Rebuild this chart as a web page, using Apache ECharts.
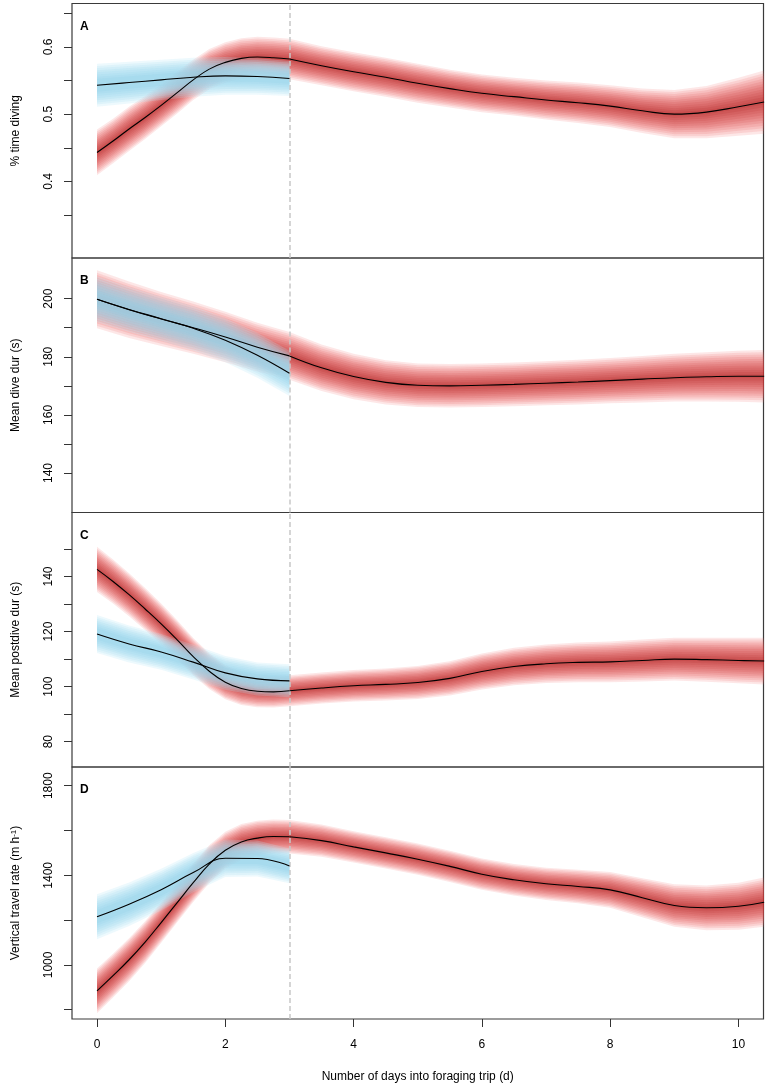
<!DOCTYPE html>
<html><head><meta charset="utf-8">
<script src="https://cdn.jsdelivr.net/npm/echarts@6/dist/echarts.min.js"></script>
<style>html,body{margin:0;padding:0;background:#fff}#c{width:768px;height:1086px}</style>
</head><body><div id="c"></div>
<script>
// ---------- data ----------
const X_PRE_Q = [0,0.25,0.5,0.75,1,1.25,1.5,1.75,2,2.25,2.5,2.75,3];
const X_PRE_H = [0,0.5,1,1.5,2,2.5,3];
const X_POST = [3,3.5,4,4.5,5,5.5,6,6.5,7,7.5,8,8.5,9,9.5,10,10.4];
const X_TICKS = [0,2,4,6,8,10];

// Panel A: % time diving
const A_RED_PRE = [0.443,0.460,0.478,0.495,0.513,0.532,0.551,0.567,0.577,0.583,0.585,0.584,0.582];
const A_RED_PRE_CI = [0.034,0.033,0.033,0.032,0.031,0.031,0.030,0.030,0.030,0.030,0.030,0.030,0.030];
const A_BLUE = [0.543,0.547,0.551,0.555,0.557,0.556,0.553];
const A_BLUE_CI = [0.032,0.031,0.030,0.029,0.028,0.027,0.026];
const A_RED_POST = [0.582,0.572,0.563,0.555,0.546,0.538,0.531,0.526,0.521,0.517,0.512,0.505,0.500,0.503,0.511,0.518];
const A_RED_POST_CI = [0.030,0.029,0.029,0.029,0.029,0.028,0.028,0.028,0.029,0.030,0.031,0.033,0.036,0.039,0.043,0.047];
const A_TICKS = [0.35,0.4,0.45,0.5,0.55,0.6,0.65];
const A_LABELS = [0.4,0.5,0.6];

// Panel B: mean dive duration
const B_RED_PRE = [199.8,196.2,193.0,190.0,186.8,183.3,180.3];
const B_RED_PRE_CI = [10,9.7,9.3,9,8.7,8.4,8.2];
const B_BLUE = [199.8,196.3,193.1,189.8,185.7,180.5,174.3];
const B_BLUE_CI = [7.8,7.7,7.6,7.6,7.6,7.7,7.8];
const B_RED_POST = [180.3,176.2,173.2,171.2,170.2,170.0,170.2,170.5,170.9,171.3,171.8,172.3,172.8,173.1,173.3,173.3];
const B_RED_POST_CI = [8.2,8.0,7.8,7.6,7.5,7.5,7.5,7.5,7.6,7.7,7.8,8.0,8.2,8.5,8.8,9.0];
const B_TICKS = [140,150,160,170,180,190,200];
const B_LABELS = [140,160,180,200];

// Panel C: mean postdive duration
const C_RED_PRE = [142.6,138.2,133.4,128.2,122.8,117.0,110.9,105.6,101.6,99.3,98.3,98.1,98.5];
const C_RED_PRE_CI = [8.2,8.0,7.8,7.6,7.4,7.1,6.8,6.5,6.2,6.0,5.8,5.7,5.6];
const C_BLUE = [119.1,115.5,112.6,108.9,105.0,102.8,102.1];
const C_BLUE_CI = [6.9,6.7,6.5,6.3,6.1,6.0,6.0];
const C_RED_POST = [98.5,99.5,100.3,100.8,101.5,103.0,105.5,107.3,108.3,108.8,109.0,109.5,110.0,109.8,109.5,109.3];
const C_RED_POST_CI = [5.6,5.6,5.7,5.8,6.0,6.2,6.5,6.8,7.0,7.2,7.4,7.6,7.8,8.0,8.3,8.5];
const C_TICKS = [80,90,100,110,120,130,140,150];
const C_LABELS = [80,100,120,140];

// Panel D: vertical travel rate
const D_RED_PRE = [884,952,1023,1102,1189,1278,1367,1450,1512,1549,1566,1573,1572];
const D_RED_PRE_CI = [100,98,96,93,90,88,86,84,82,80,78,76,75];
const D_BLUE = [1215,1271,1336,1412,1476,1475,1442];
const D_BLUE_CI = [100,97,93,88,84,80,78];
const D_RED_POST = [1572,1555,1527,1500,1472,1440,1405,1380,1362,1350,1335,1300,1265,1255,1262,1280];
const D_RED_POST_CI = [75,72,70,70,70,70,70,70,72,75,80,87,95,100,105,110];
const D_TICKS = [800,1000,1200,1400,1600,1800];
const D_LABELS = [1000,1400,1800];

const PANEL_LETTERS = ['A','B','C','D'];
const Y_TITLES = ['% time diving','Mean dive dur (s)','Mean postdive dur (s)','Vertical travel rate (m h{sup|-1})'];
const X_TITLE = 'Number of days into foraging trip (d)';
const SPLIT_DAY = 3;

// ---------- layout / style ----------
const FONT = 'Liberation Sans, Arial, Helvetica, sans-serif';
const GRID_TOPS = [3.5, 258, 512.5, 767];
const GRID_HEIGHTS = [254.5, 254.5, 254.5, 252];
const Y_RANGES = [[0.286,0.6646],[126.4,214.0],[70.8,163.26],[758.5,1883.5]];
const X_RANGE = [-0.39, 10.39];

const panels = [
  {redPre:[X_PRE_Q,A_RED_PRE,A_RED_PRE_CI], blue:[X_PRE_H,A_BLUE,A_BLUE_CI], redPost:[X_POST,A_RED_POST,A_RED_POST_CI], ticks:A_TICKS, labels:A_LABELS},
  {redPre:[X_PRE_H,B_RED_PRE,B_RED_PRE_CI], blue:[X_PRE_H,B_BLUE,B_BLUE_CI], redPost:[X_POST,B_RED_POST,B_RED_POST_CI], ticks:B_TICKS, labels:B_LABELS},
  {redPre:[X_PRE_Q,C_RED_PRE,C_RED_PRE_CI], blue:[X_PRE_H,C_BLUE,C_BLUE_CI], redPost:[X_POST,C_RED_POST,C_RED_POST_CI], ticks:C_TICKS, labels:C_LABELS},
  {redPre:[X_PRE_Q,D_RED_PRE,D_RED_PRE_CI], blue:[X_PRE_H,D_BLUE,D_BLUE_CI], redPost:[X_POST,D_RED_POST,D_RED_POST_CI], ticks:D_TICKS, labels:D_LABELS}
];

function mix(c1, c2, t){ return c1.map((v,i)=>Math.round(v+(c2[i]-v)*t)); }

// layered fuzzy band
function bandLayers(gi, triple, outer, inner, n, alpha, fracMin, z){
  const [xs, mean, ci] = triple;
  const out = [];
  for (let k=0;k<n;k++){
    const t = k/(n-1);
    const frac = 1 - t*(1-fracMin);
    const c = mix(outer, inner, t);
    const fill = 'rgba('+c[0]+','+c[1]+','+c[2]+','+alpha+')';
    out.push({
      type:'custom', xAxisIndex:gi, yAxisIndex:gi, z:z, silent:true, clip:true,
      data: xs.map((x,i)=>[x, mean[i]-ci[i]*frac, mean[i]+ci[i]*frac]),
      encode:{x:0, y:[1,2]},
      renderItem: function(params, api){
        if (params.dataIndex !== 0) return null;
        const pts = [];
        for (let i=0;i<xs.length;i++) pts.push(api.coord([xs[i], mean[i]+ci[i]*frac]));
        for (let i=xs.length-1;i>=0;i--) pts.push(api.coord([xs[i], mean[i]-ci[i]*frac]));
        return {type:'polygon', shape:{points:pts}, style:{fill:fill, stroke:null}};
      }
    });
  }
  return out;
}

function meanLine(gi, triple, z){
  const [xs, mean] = triple;
  return {type:'line', xAxisIndex:gi, yAxisIndex:gi, z:z, silent:true, showSymbol:false, smooth:0.45,
    data: xs.map((x,i)=>[x, mean[i]]), lineStyle:{color:'#000', width:1.1}};
}

const RED_OUT = [242,95,95], RED_IN = [170,25,25];
const BLUE_OUT = [180,228,245], BLUE_IN = [145,208,232];

const grids=[], xAxes=[], yAxes=[], series=[], graphics=[];
panels.forEach((p, gi)=>{
  grids.push({left:72, right:4.5, top:GRID_TOPS[gi], height:GRID_HEIGHTS[gi], show:true, borderColor:'#3a3a3a', borderWidth:1.2, backgroundColor:'transparent'});
  const isBottom = gi===3;
  xAxes.push({type:'value', gridIndex:gi, min:X_RANGE[0], max:X_RANGE[1], position:'bottom',
    axisLine:{show:false, onZero:false}, splitLine:{show:false},
    axisTick:{show:isBottom, customValues:X_TICKS, length:8, lineStyle:{color:'#333', width:1}},
    axisLabel:{show:isBottom, customValues:X_TICKS, margin:20, fontSize:12, color:'#000', fontFamily:FONT, formatter:v=>String(v)},
    name: isBottom ? X_TITLE : '', nameLocation:'middle', nameGap:52,
    nameTextStyle:{fontSize:12, color:'#000', fontFamily:FONT}
  });
  yAxes.push({type:'value', gridIndex:gi, min:Y_RANGES[gi][0], max:Y_RANGES[gi][1], position:'left',
    axisLine:{show:false, onZero:false}, splitLine:{show:false},
    axisTick:{show:true, customValues:p.ticks, length:8, lineStyle:{color:'#333', width:1}},
    axisLabel:{show:true, customValues:p.labels, rotate:90, margin:17, fontSize:12, color:'#000', fontFamily:FONT, formatter:v=>String(v)},
    name: Y_TITLES[gi], nameLocation:'middle', nameGap:50,
    nameTextStyle:{fontSize:12, color:'#000', fontFamily:FONT, rich:{sup:{fontSize:8, verticalAlign:'top', lineHeight:12, color:'#000', fontFamily:FONT, padding:[0,0,6,0]}}}
  });
  series.push(...bandLayers(gi, p.redPre, RED_OUT, RED_IN, 12, 0.15, 0.08, 1));
  series.push(...bandLayers(gi, p.blue, BLUE_OUT, BLUE_IN, 8, 0.24, 0.3, 2));
  series.push(...bandLayers(gi, p.redPost, RED_OUT, RED_IN, 12, 0.15, 0.08, 1));
  series.push(meanLine(gi, p.redPre, 5));
  series.push(meanLine(gi, p.blue, 5));
  const post = meanLine(gi, p.redPost, 5);
  post.markLine = {silent:true, symbol:'none', label:{show:false},
    lineStyle:{color:'#c8c8c8', type:[5,3], width:1.5}, data:[{xAxis:SPLIT_DAY}]};
  series.push(post);
  graphics.push({type:'text', left:80, top:GRID_TOPS[gi]+17, z:10,
    style:{text:PANEL_LETTERS[gi], font:'bold 12px '+FONT, fill:'#000'}});
});

const chart = echarts.init(document.getElementById('c'), null, {renderer:'canvas'});
chart.setOption({animation:false, grid:grids, xAxis:xAxes, yAxis:yAxes, series:series, graphic:graphics});
</script></body></html>
